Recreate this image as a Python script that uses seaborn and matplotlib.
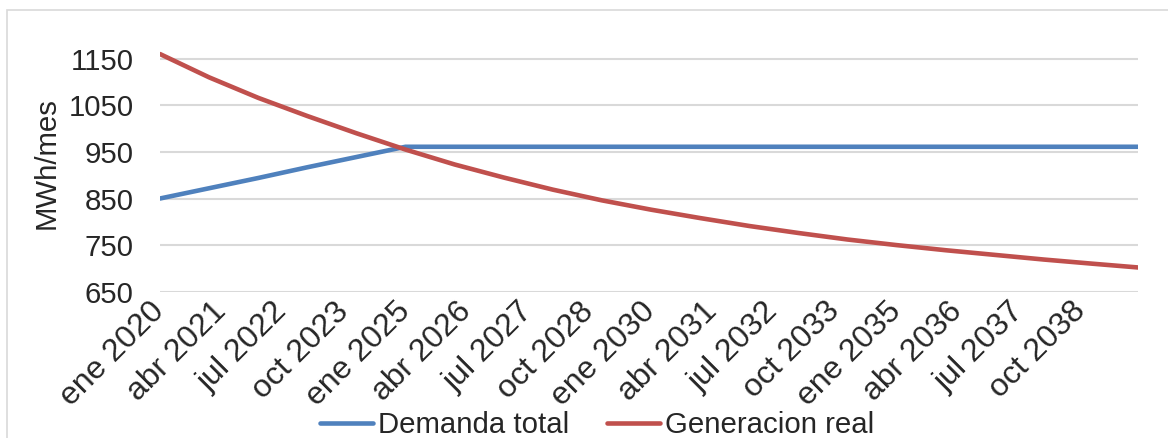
import matplotlib
matplotlib.use("Agg")
import matplotlib.pyplot as plt
import seaborn as sns
import pandas as pd
from matplotlib.patches import Rectangle

# ---- data ----
# month index from ene 2020 (0) to dic 2039 (239); yearly readings
month_idx = [0, 12, 24, 36, 48, 60, 72, 84, 96, 108, 120, 132, 144,
             156, 168, 180, 192, 204, 216, 228, 239]
demanda_total = [850, 872, 894, 917, 939, 961, 961, 961, 961, 961, 961,
                 961, 961, 961, 961, 961, 961, 961, 961, 961, 961]
generacion_real = [1160, 1110, 1066, 1027, 990, 955, 923, 895, 869, 846,
                   826, 808, 791, 776, 762, 750, 739, 729, 719, 710, 702]
tick_pos = [0, 15, 30, 45, 60, 75, 90, 105, 120, 135, 150, 165, 180, 195, 210, 225]
tick_labels = ["ene 2020", "abr 2021", "jul 2022", "oct 2023", "ene 2025",
               "abr 2026", "jul 2027", "oct 2028", "ene 2030", "abr 2031",
               "jul 2032", "oct 2033", "ene 2035", "abr 2036", "jul 2037",
               "oct 2038"]
y_ticks = [650, 750, 850, 950, 1050, 1150]

df = pd.DataFrame({
    "mes": month_idx * 2,
    "valor": demanda_total + generacion_real,
    "serie": ["Demanda total"] * len(month_idx) + ["Generacion real"] * len(month_idx),
})

sns.set_theme(style="white")
plt.rcParams["font.family"] = ["Liberation Sans", "DejaVu Sans"]
FS = 21.2
FSX = 23

W, H = 1168, 438
fig = plt.figure(figsize=(W / 100, H / 100), dpi=100)
left, right, bottom_px, top_px = 160, 1138, 291.7, 35.4
ax = fig.add_axes([left / W, 1 - bottom_px / H, (right - left) / W, (bottom_px - top_px) / H])

palette = {"Demanda total": "#4F81BD", "Generacion real": "#C0504D"}
sns.lineplot(data=df, x="mes", y="valor", hue="serie", palette=palette,
             linewidth=3.3, ax=ax, legend=False, solid_capstyle="round",
             solid_joinstyle="round")

ax.set_xlim(0, 239)
ax.set_ylim(650, 1200)
ax.set_yticks(y_ticks)
ax.set_yticklabels([str(v) for v in y_ticks], fontsize=FS)
ax.set_xticks(tick_pos)
ax.set_xticklabels(tick_labels, rotation=45, ha="right", va="center",
                   rotation_mode="anchor", fontsize=FSX)
ax.tick_params(axis="x", length=0, pad=11)
ax.tick_params(axis="y", length=0, pad=19)
ax.grid(axis="y", color="#D9D9D9", linewidth=1.5)
ax.set_axisbelow(True)
for s in ax.spines.values():
    s.set_visible(False)
ax.set_xlabel("")
ax.set_ylabel("MWh/mes", fontsize=FS, labelpad=6)

# chart-area border
fig.patches.append(Rectangle((7 / W, -0.05), 1.2, 1 - 10.5 / H + 0.05,
                             transform=fig.transFigure, fill=False,
                             edgecolor="#D9D9D9", linewidth=1.2))

handles = [plt.Line2D([], [], color=palette[k], linewidth=3.3, solid_capstyle="round")
           for k in ["Demanda total", "Generacion real"]]
fig.legend(handles, ["Demanda total", "Generacion real"], loc="center",
           bbox_to_anchor=(597 / W, 1 - 425 / H), ncol=2, frameon=False,
           fontsize=FS, handlelength=1.8, handletextpad=0.15, columnspacing=1.3,
           borderpad=0)

fig.savefig("out.png", dpi=100)
